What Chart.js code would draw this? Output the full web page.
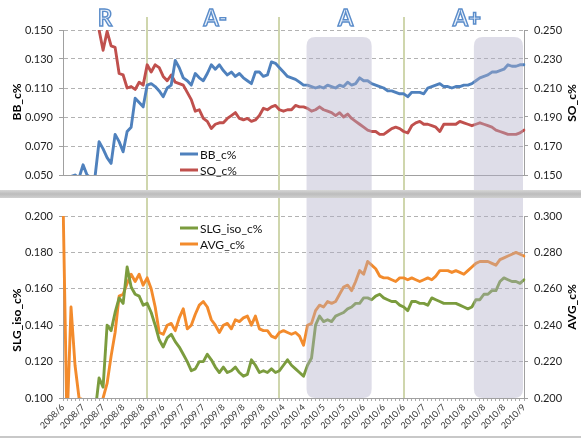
<!DOCTYPE html>
<html>
<head>
<meta charset="utf-8">
<script src="https://cdn.jsdelivr.net/npm/chart.js@4.4.1/dist/chart.umd.min.js"></script>
<style>
  html, body { margin: 0; padding: 0; background: #fff; }
  #wrap { position: relative; width: 581px; height: 438px; overflow: hidden; }
  #topChart { position: absolute; left: 0; top: 0; }
  #sep { position: absolute; left: 0; top: 190px; width: 581px; height: 8px;
         background: linear-gradient(#d6d6d6, #bcbcbc 50%, #d0d0d0); }
  #bottomChart { position: absolute; left: 0; top: 198px; }
  #foot { position: absolute; left: 0; top: 436px; width: 581px; height: 2px; background: #c8c8c8; }
</style>
</head>
<body>
<div id="wrap">
  <canvas id="topChart" width="581" height="190"></canvas>
  <div id="sep"></div>
  <canvas id="bottomChart" width="581" height="238"></canvas>
  <div id="foot"></div>
</div>
<script>
// tick labels shown under the lower chart, one every 5 points
const tickLabels = ['2008/6', '2008/7', '2008/7', '2008/8', '2008/8', '2009/6', '2009/7', '2009/7',
  '2009/8', '2009/8', '2009/8', '2010/4', '2010/4', '2010/5', '2010/5', '2010/6', '2010/6', '2010/6',
  '2010/7', '2010/7', '2010/8', '2010/8', '2010/8', '2010/9'];
const categories = tickLabels.flatMap((t, k) => k < tickLabels.length - 1 ? [t, t, t, t, t] : [t]);

const bbTicks = [0.050, 0.070, 0.090, 0.110, 0.130, 0.150];
const soTicks = [0.150, 0.170, 0.190, 0.210, 0.230, 0.250];
const slgTicks = [0.100, 0.120, 0.140, 0.160, 0.180, 0.200];
const avgTicks = [0.200, 0.220, 0.240, 0.260, 0.280, 0.300];

const BB = [
  0.045, 0.046, 0.049, 0.050, 0.048, 0.057, 0.050, 0.048, 0.049, 0.073,
  0.068, 0.062, 0.058, 0.078, 0.073, 0.066, 0.080, 0.083, 0.103, 0.100,
  0.097, 0.112, 0.113, 0.111, 0.108, 0.104, 0.110, 0.112, 0.129, 0.124,
  0.117, 0.115, 0.112, 0.120, 0.117, 0.115, 0.120, 0.126, 0.123, 0.126,
  0.122, 0.119, 0.121, 0.118, 0.120, 0.117, 0.115, 0.113, 0.121, 0.121,
  0.118, 0.119, 0.128, 0.127, 0.124, 0.121, 0.118, 0.117, 0.116, 0.114,
  0.112, 0.112, 0.111, 0.110, 0.111, 0.110, 0.112, 0.111, 0.110, 0.112,
  0.111, 0.114, 0.112, 0.113, 0.117, 0.115, 0.115, 0.113, 0.112, 0.111,
  0.110, 0.108, 0.108, 0.107, 0.106, 0.106, 0.104, 0.107, 0.107, 0.107,
  0.106, 0.110, 0.111, 0.112, 0.113, 0.111, 0.111, 0.110, 0.111, 0.111,
  0.112, 0.112, 0.113, 0.115, 0.117, 0.118, 0.119, 0.121, 0.121, 0.122,
  0.123, 0.126, 0.125, 0.125, 0.126, 0.126
];
const SO = [
  0.280, 0.280, 0.280, 0.280, 0.280, 0.280, 0.280, 0.275, 0.265, 0.250,
  0.236, 0.249, 0.239, 0.238, 0.220, 0.219, 0.210, 0.211, 0.209, 0.214,
  0.212, 0.226, 0.221, 0.226, 0.224, 0.218, 0.215, 0.219, 0.214, 0.213,
  0.212, 0.207, 0.202, 0.194, 0.195, 0.189, 0.187, 0.182, 0.185, 0.186,
  0.186, 0.189, 0.191, 0.193, 0.189, 0.188, 0.189, 0.187, 0.188, 0.191,
  0.196, 0.195, 0.197, 0.198, 0.195, 0.194, 0.195, 0.195, 0.198, 0.197,
  0.197, 0.196, 0.194, 0.195, 0.197, 0.195, 0.194, 0.193, 0.191, 0.193,
  0.190, 0.192, 0.189, 0.187, 0.185, 0.183, 0.181, 0.180, 0.180, 0.178,
  0.178, 0.180, 0.182, 0.183, 0.182, 0.180, 0.179, 0.184, 0.186, 0.187,
  0.185, 0.185, 0.184, 0.183, 0.180, 0.185, 0.185, 0.185, 0.185, 0.187,
  0.186, 0.185, 0.184, 0.185, 0.186, 0.185, 0.184, 0.183, 0.181, 0.180,
  0.179, 0.178, 0.178, 0.178, 0.179, 0.181
];
const SLG = [
  0.090, 0.090, 0.090, 0.090, 0.090, 0.090, 0.090, 0.090, 0.092, 0.111,
  0.106, 0.140, 0.137, 0.147, 0.155, 0.152, 0.172, 0.161, 0.157, 0.156,
  0.151, 0.152, 0.147, 0.140, 0.132, 0.128, 0.133, 0.135, 0.131, 0.128,
  0.124, 0.120, 0.115, 0.116, 0.120, 0.120, 0.124, 0.121, 0.117, 0.114,
  0.117, 0.114, 0.115, 0.117, 0.114, 0.112, 0.113, 0.121, 0.118, 0.114,
  0.115, 0.114, 0.116, 0.114, 0.115, 0.118, 0.121, 0.118, 0.116, 0.114,
  0.112, 0.118, 0.122, 0.140, 0.145, 0.142, 0.143, 0.142, 0.145, 0.146,
  0.147, 0.149, 0.150, 0.152, 0.152, 0.155, 0.155, 0.154, 0.156, 0.157,
  0.155, 0.154, 0.153, 0.153, 0.151, 0.150, 0.148, 0.153, 0.153, 0.152,
  0.152, 0.151, 0.155, 0.154, 0.153, 0.152, 0.152, 0.152, 0.152, 0.151,
  0.150, 0.149, 0.150, 0.154, 0.154, 0.157, 0.157, 0.159, 0.159, 0.164,
  0.166, 0.165, 0.164, 0.164, 0.163, 0.165
];
const AVG = [
  0.310, 0.185, 0.250, 0.218, 0.200, 0.199, 0.185, 0.185, 0.185, 0.190,
  0.200, 0.208, 0.223, 0.236, 0.256, 0.257, 0.263, 0.268, 0.264, 0.268,
  0.262, 0.266, 0.260, 0.250, 0.236, 0.235, 0.240, 0.241, 0.237, 0.244,
  0.249, 0.238, 0.240, 0.246, 0.251, 0.253, 0.250, 0.243, 0.240, 0.236,
  0.240, 0.241, 0.238, 0.243, 0.242, 0.244, 0.245, 0.240, 0.245, 0.238,
  0.237, 0.237, 0.234, 0.233, 0.236, 0.237, 0.236, 0.235, 0.236, 0.234,
  0.229, 0.240, 0.241, 0.248, 0.251, 0.250, 0.253, 0.252, 0.253, 0.257,
  0.261, 0.262, 0.259, 0.264, 0.270, 0.268, 0.275, 0.273, 0.271, 0.267,
  0.266, 0.266, 0.265, 0.264, 0.266, 0.266, 0.265, 0.266, 0.265, 0.264,
  0.265, 0.266, 0.265, 0.267, 0.270, 0.270, 0.270, 0.269, 0.270, 0.269,
  0.268, 0.270, 0.272, 0.274, 0.275, 0.275, 0.275, 0.274, 0.273, 0.276,
  0.277, 0.278, 0.279, 0.280, 0.279, 0.278
];

// rating periods and highlighted stretches, as positions on the category axis
const phaseLines = [21, 54, 85];
const grades = [['R', 10.5], ['A-', 38], ['A', 70.5], ['A+', 100.75]];
const bands = [[60.75, 77], [102.5, 114.75]];

const FONT = 'Lato, "Liberation Sans", sans-serif';

function roundedBox(ctx, x0, y0, x1, y1, rt, rb) {
  ctx.beginPath();
  ctx.moveTo(x0 + rt, y0);
  ctx.lineTo(x1 - rt, y0);
  ctx.quadraticCurveTo(x1, y0, x1, y0 + rt);
  ctx.lineTo(x1, y1 - rb);
  ctx.quadraticCurveTo(x1, y1, x1 - rb, y1);
  ctx.lineTo(x0 + rb, y1);
  ctx.quadraticCurveTo(x0, y1, x0, y1 - rb);
  ctx.lineTo(x0, y0 + rt);
  ctx.quadraticCurveTo(x0, y0, x0 + rt, y0);
  ctx.closePath();
}

const decor = {
  id: 'decor',
  beforeDatasetsDraw(chart, args, o) {
    const { ctx, scales: { x } } = chart;
    ctx.save();
    ctx.strokeStyle = '#cfd6ad';
    ctx.lineWidth = 2;
    phaseLines.forEach(idx => {
      const px = Math.round(x.getPixelForValue(idx));
      ctx.beginPath();
      ctx.moveTo(px, o.lineTop);
      ctx.lineTo(px, o.lineBottom === 'area' ? chart.chartArea.bottom : o.lineBottom);
      ctx.stroke();
    });
    ctx.restore();
  },
  afterDatasetsDraw(chart, args, o) {
    const { ctx, chartArea, scales: { x } } = chart;
    ctx.save();
    // shaded periods
    ctx.fillStyle = 'rgba(176, 174, 200, 0.42)';
    const y1 = o.bandBottom === 'area' ? chartArea.bottom : o.bandBottom;
    bands.forEach(([a, b]) => {
      roundedBox(ctx, x.getPixelForValue(a), o.bandTop, x.getPixelForValue(b), y1, o.rTop, o.rBottom);
      ctx.fill();
    });
    // legend
    ctx.font = '12px ' + FONT;
    ctx.textBaseline = 'middle';
    chart.data.datasets.forEach((ds, k) => {
      const ly = o.legendY + k * 16;
      ctx.strokeStyle = ds.borderColor;
      ctx.lineWidth = 3;
      ctx.beginPath();
      ctx.moveTo(180, ly);
      ctx.lineTo(198, ly);
      ctx.stroke();
      ctx.fillStyle = '#111';
      ctx.textAlign = 'left';
      ctx.fillText(ds.label, 200, ly + 1);
    });
    // axis titles, both read bottom to top
    ctx.font = 'bold 12px ' + FONT;
    ctx.fillStyle = '#000';
    ctx.textAlign = 'center';
    o.titles.forEach(t => {
      ctx.save();
      ctx.translate(t.x, t.y);
      ctx.rotate(-Math.PI / 2);
      ctx.fillText(t.text, 0, 0);
      ctx.restore();
    });
    // rating letters
    if (o.grades) {
      ctx.font = 'bold 22px ' + FONT;
      ctx.textBaseline = 'alphabetic';
      ctx.lineWidth = 1.4;
      ctx.strokeStyle = '#5a8cca';
      ctx.fillStyle = '#eaf1fa';
      grades.forEach(([g, idx]) => {
        const gx = x.getPixelForValue(idx);
        ctx.fillText(g, gx, 26);
        ctx.strokeText(g, gx, 26);
      });
    }
    ctx.restore();
  }
};

function series(label, data, color, axis) {
  return {
    label, data, yAxisID: axis, borderColor: color, backgroundColor: color,
    borderWidth: 2.9, pointRadius: 0, pointHoverRadius: 0, tension: 0,
    borderJoinStyle: 'round', borderCapStyle: 'round', fill: false
  };
}

function yAxis(pos, ticksArr, width) {
  return {
    position: pos,
    min: ticksArr[0],
    max: ticksArr[ticksArr.length - 1],
    afterBuildTicks: s => { s.ticks = ticksArr.map(v => ({ value: v })); },
    afterFit: s => { s.width = width; },
    ticks: { font: { family: FONT, size: 11 }, color: '#222', padding: 6,
             callback: v => v.toFixed(3) },
    grid: pos === 'left'
      ? { color: '#b2b2b2', tickColor: '#a0a0a0', tickLength: 4 }
      : { drawOnChartArea: false, color: '#a0a0a0', tickLength: 4 },
    border: { display: true, color: '#a0a0a0', dash: [4, 3] }
  };
}

new Chart(document.getElementById('topChart'), {
  type: 'line',
  data: {
    labels: categories,
    datasets: [
      series('BB_c%', BB, '#4f81bd', 'yBB'),
      series('SO_c%', SO, '#c0504d', 'ySO')
    ]
  },
  options: {
    responsive: false,
    animation: false,
    events: [],
    layout: { padding: { top: 30, left: 0, right: 0, bottom: 0 } },
    plugins: {
      legend: { display: false },
      tooltip: { enabled: false },
      decor: {
        lineTop: 17, lineBottom: 190,
        bandTop: 37, bandBottom: 190, rTop: 9, rBottom: 0,
        legendY: 154,
        titles: [{ text: 'BB_c%', x: 17, y: 102 }, { text: 'SO_c%', x: 572, y: 103 }],
        grades: true
      }
    },
    scales: {
      x: {
        ticks: { display: false },
        grid: { display: false },
        border: { display: true, color: '#a0a0a0' },
        afterFit: s => { s.height = 15; }
      },
      yBB: yAxis('left', bbTicks, 63),
      ySO: yAxis('right', soTicks, 57)
    }
  },
  plugins: [decor]
});

new Chart(document.getElementById('bottomChart'), {
  type: 'line',
  data: {
    labels: categories,
    datasets: [
      series('SLG_iso_c%', SLG, '#7b9c3e', 'ySLG'),
      series('AVG_c%', AVG, '#f38b2c', 'yAVG')
    ]
  },
  options: {
    responsive: false,
    animation: false,
    events: [],
    layout: { padding: { top: 18, left: 0, right: 0, bottom: 0 } },
    plugins: {
      legend: { display: false },
      tooltip: { enabled: false },
      decor: {
        lineTop: 0, lineBottom: 'area',
        bandTop: 0, bandBottom: 'area', rTop: 0, rBottom: 9,
        legendY: 30,
        titles: [{ text: 'SLG_iso_c%', x: 17, y: 122 }, { text: 'AVG_c%', x: 572, y: 109 }],
        grades: false
      }
    },
    scales: {
      x: {
        afterFit: s => { s.height = 38; },
        grid: { drawOnChartArea: false, drawTicks: true, tickLength: 3, color: '#ababab' },
        border: { display: true, color: '#a0a0a0' },
        ticks: {
          autoSkip: false, minRotation: 45, maxRotation: 45, padding: 1,
          font: { family: FONT, size: 9 }, color: '#333',
          callback: (v, i) => i % 5 === 0 ? categories[i] : ''
        }
      },
      ySLG: yAxis('left', slgTicks, 63),
      yAVG: yAxis('right', avgTicks, 57)
    }
  },
  plugins: [decor]
});
</script>
</body>
</html>
